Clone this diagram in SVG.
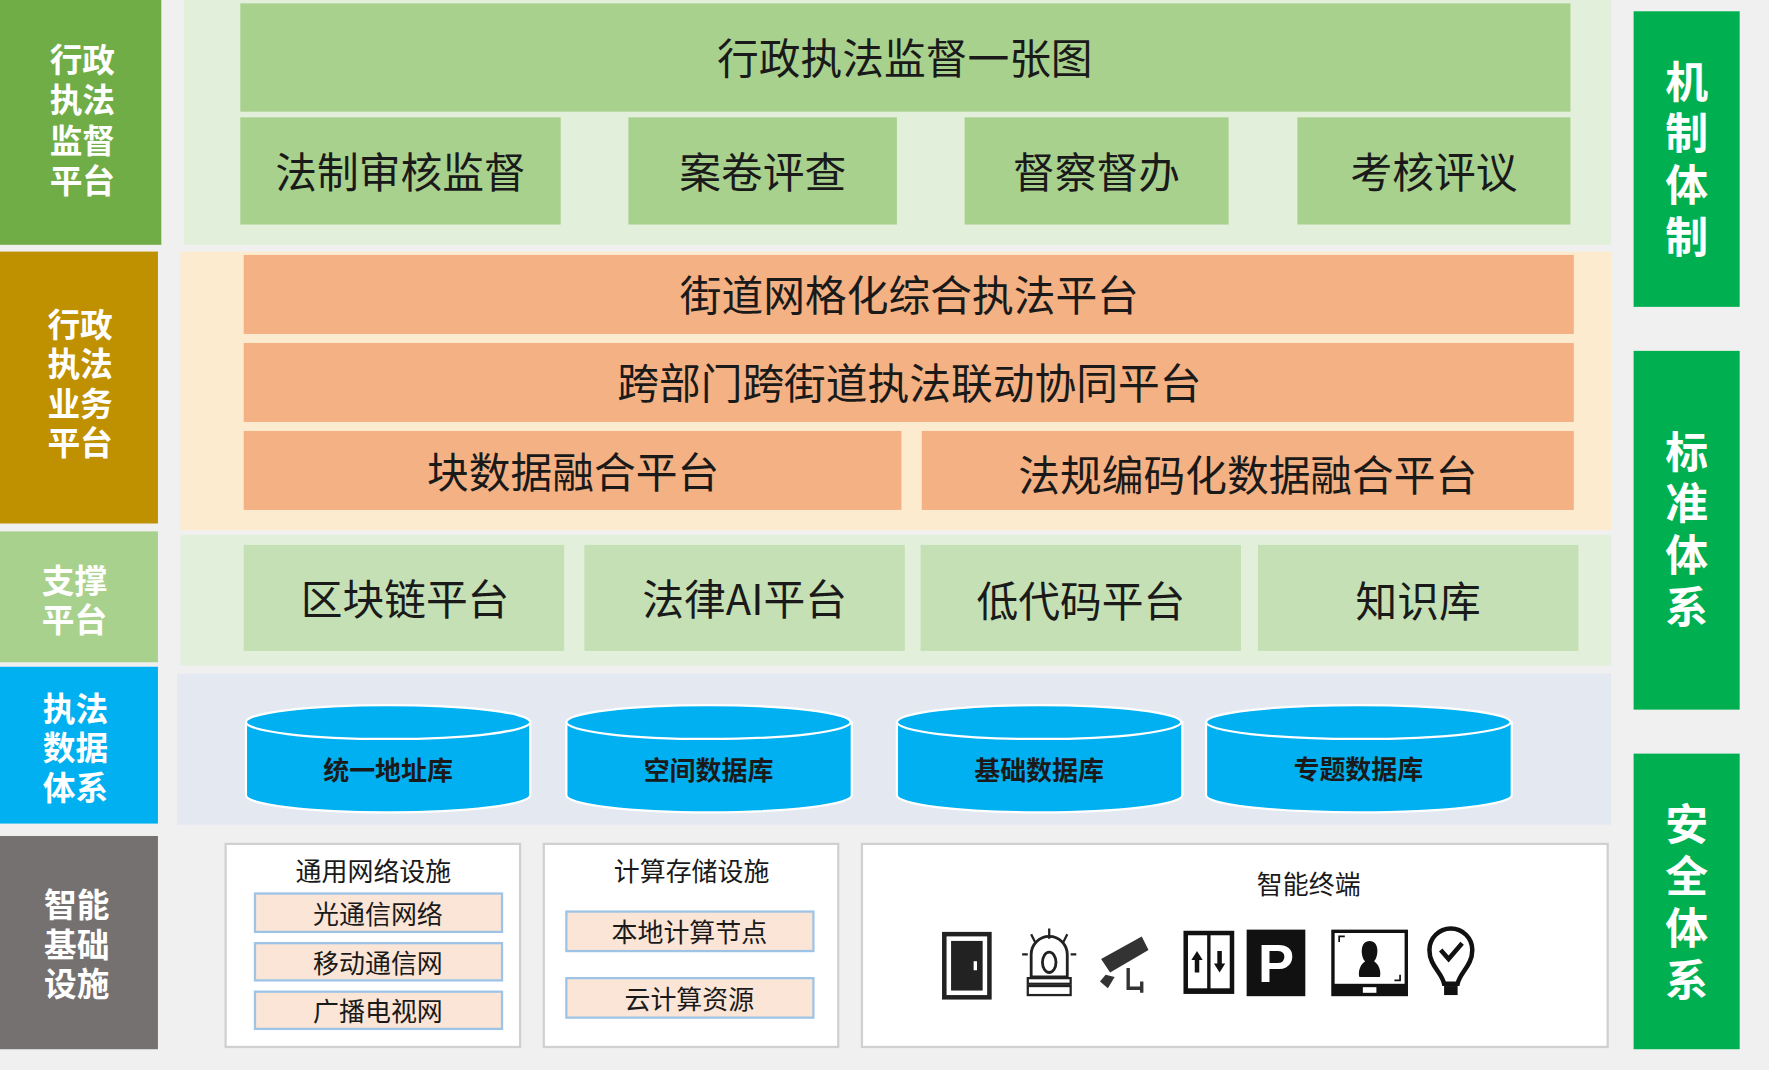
<svg xmlns="http://www.w3.org/2000/svg" width="1769" height="1070" viewBox="0 0 1769 1070">
<style>
text{font-family:"Noto Sans CJK SC","Noto Sans",sans-serif;text-anchor:middle;dominant-baseline:central}
.lt{fill:#fff;font-weight:bold;font-size:29px;writing-mode:vertical-rl;letter-spacing:6px;dominant-baseline:auto}
.rt{fill:#fff;font-weight:bold;font-size:38px;writing-mode:vertical-rl;letter-spacing:8px;dominant-baseline:auto}
.bt{fill:#1a1a1a;font-size:37px}
.db{fill:#1a1a1a;font-size:23px;font-weight:bold}
.sm{fill:#1a1a1a;font-size:23px}
.sub{fill:#fbe5d6;stroke:#9dc3e6;stroke-width:2}
.wb{fill:#fff;stroke:#d0d0d0;stroke-width:2}
.cyl{fill:#00b0f0;stroke:#fff;stroke-width:2}
</style>
<rect width="1769" height="1070" fill="#f0f0f0"/>
<g transform="scale(1.12819)">
<g id="left">
<rect x="0" y="0" width="143" height="217" fill="#70ad47"/>
<text class="lt" x="58.5" y="110" style="letter-spacing:7px">行执监平</text><text class="lt" x="87.5" y="110" style="letter-spacing:7px">政法督台</text>
<rect x="0" y="223" width="140" height="241" fill="#bf9000"/>
<text class="lt" x="56.5" y="343">行执业平</text><text class="lt" x="85.5" y="343">政法务台</text>
<rect x="0" y="471" width="140" height="116" fill="#a9d18e"/>
<text class="lt" x="51.5" y="535">支平</text><text class="lt" x="80.5" y="535">撑台</text>
<rect x="0" y="591" width="140" height="139" fill="#00b0f0"/>
<text class="lt" x="52.5" y="666">执数体</text><text class="lt" x="81.5" y="666">法据系</text>
<rect x="0" y="741" width="140" height="189" fill="#767171"/>
<text class="lt" x="53.5" y="840">智基设</text><text class="lt" x="82.5" y="840">能础施</text>
</g>
<g id="right">
<rect x="1448" y="10" width="94" height="262" fill="#00b050"/>
<text class="rt" x="1495" y="145">机制体制</text>
<rect x="1448" y="311" width="94" height="318" fill="#00b050"/>
<text class="rt" x="1495" y="473">标准体系</text>
<rect x="1448" y="668" width="94" height="262" fill="#00b050"/>
<text class="rt" x="1495" y="803">安全体系</text>
</g>
<g id="supervision">
<rect x="163" y="0" width="1265" height="217" fill="#e2efda"/>
<rect x="213" y="3" width="1179" height="96" fill="#a9d18e"/>
<text class="bt" x="802" y="50">行政执法监督一张图</text>
<rect x="213" y="104" width="284" height="95" fill="#a9d18e"/><text class="bt" x="355" y="151">法制审核监督</text>
<rect x="557" y="104" width="238" height="95" fill="#a9d18e"/><text class="bt" x="676" y="151">案卷评查</text>
<rect x="855" y="104" width="234" height="95" fill="#a9d18e"/><text class="bt" x="972" y="151">督察督办</text>
<rect x="1150" y="104" width="242" height="95" fill="#a9d18e"/><text class="bt" x="1271" y="151">考核评议</text>
</g>
<g id="business">
<rect x="160" y="223" width="1268" height="247" fill="#fcebcf"/>
<rect x="216" y="226" width="1179" height="70" fill="#f4b183"/><text class="bt" x="806" y="260">街道网格化综合执法平台</text>
<rect x="216" y="304" width="1179" height="70" fill="#f4b183"/><text class="bt" x="806" y="338">跨部门跨街道执法联动协同平台</text>
<rect x="216" y="382" width="583" height="70" fill="#f4b183"/><text class="bt" x="508" y="417">块数据融合平台</text>
<rect x="817" y="382" width="578" height="70" fill="#f4b183"/><text class="bt" x="1106" y="419">法规编码化数据融合平台</text>
</g>
<g id="support">
<rect x="160" y="474" width="1268" height="116" fill="#e2efda"/>
<rect x="216" y="483" width="284" height="94" fill="#c5e0b4"/><text class="bt" x="359" y="529">区块链平台</text>
<rect x="518" y="483" width="284" height="94" fill="#c5e0b4"/><text class="bt" x="660" y="529">法律AI平台</text>
<rect x="816" y="483" width="284" height="94" fill="#c5e0b4"/><text class="bt" x="958" y="531">低代码平台</text>
<rect x="1115" y="483" width="284" height="94" fill="#c5e0b4"/><text class="bt" x="1257" y="531">知识库</text>
</g>
<g id="data">
<rect x="157" y="597" width="1271" height="134" fill="#e3e8f1"/>
<path class="cyl" d="M218 640 V705 A126 15 0 0 0 470 705 V640 Z"/><ellipse class="cyl" cx="344" cy="640" rx="126" ry="15"/><text class="db" x="344" y="681">统一地址库</text>
<path class="cyl" d="M502 640 V705 A126 15 0 0 0 755 705 V640 Z"/><ellipse class="cyl" cx="628" cy="640" rx="126" ry="15"/><text class="db" x="628" y="681">空间数据库</text>
<path class="cyl" d="M795 640 V705 A126 15 0 0 0 1048 705 V640 Z"/><ellipse class="cyl" cx="921" cy="640" rx="126" ry="15"/><text class="db" x="921" y="681">基础数据库</text>
<path class="cyl" d="M1069 640 V705 A135 15 0 0 0 1340 705 V640 Z"/><ellipse class="cyl" cx="1204" cy="640" rx="135" ry="15"/><text class="db" x="1204" y="680">专题数据库</text>
</g>
<g id="infra">
<rect class="wb" x="200" y="748" width="261" height="180"/>
<text class="sm" x="331" y="771">通用网络设施</text>
<rect class="sub" x="226" y="792" width="219" height="34"/><text class="sm" x="335" y="809">光通信网络</text>
<rect class="sub" x="226" y="836" width="219" height="33"/><text class="sm" x="335" y="852">移动通信网</text>
<rect class="sub" x="226" y="879" width="219" height="33"/><text class="sm" x="335" y="895">广播电视网</text>
<rect class="wb" x="482" y="748" width="261" height="180"/>
<text class="sm" x="613" y="771">计算存储设施</text>
<rect class="sub" x="502" y="808" width="219" height="35"/><text class="sm" x="611" y="825">本地计算节点</text>
<rect class="sub" x="502" y="867" width="219" height="35"/><text class="sm" x="611" y="884">云计算资源</text>
<rect class="wb" x="764" y="748" width="661" height="180"/>
<text class="sm" x="1160" y="782">智能终端</text>
<g id="icons">
<rect x="837" y="828" width="40" height="56" fill="#fff" stroke="#222" stroke-width="4"/><rect x="843" y="834" width="28" height="44" fill="#222"/><rect x="863" y="852" width="3" height="8" fill="#fff"/>
<path d="M914 866 V846 A16 16 0 0 1 946 846 V866 Z" fill="#fff" stroke="#222" stroke-width="2.5"/><ellipse cx="930" cy="853" rx="6" ry="9" fill="none" stroke="#222" stroke-width="2.5"/>
<rect x="911" y="867" width="38" height="5" fill="#fff" stroke="#222" stroke-width="2"/><rect x="911" y="874" width="38" height="8" fill="#fff" stroke="#222" stroke-width="2"/>
<path d="M930 823 V832 M914 828 L918 836 M946 828 L942 836 M906 846 H911 M949 846 H954" stroke="#222" stroke-width="2"/>
<path d="M976 850 L1012 830 L1018 842 L984 862 Z" fill="#333"/><path d="M980 864 L975 870 L982 876 L988 866 Z" fill="#333"/><path d="M1000 858 V876 H1012 M1012 870 V880" stroke="#333" stroke-width="3" fill="none"/>
<rect x="1049" y="825" width="45" height="56" fill="#111"/><rect x="1053" y="829" width="17" height="47" fill="#fff"/><rect x="1073" y="829" width="17" height="47" fill="#fff"/>
<path d="M1061 843 L1056 851 H1059 V862 H1063 V851 H1066 Z M1081 862 L1076 854 H1079 V843 H1083 V854 H1086 Z" fill="#111"/>
<rect x="1105" y="824" width="52" height="59" fill="#111"/><text x="1131" y="854" fill="#fff" style="font-family:'Liberation Sans',sans-serif;font-weight:bold;font-size:48px">P</text>
<rect x="1180" y="824" width="68" height="59" fill="#111"/><rect x="1183" y="827" width="62" height="45" fill="#fff"/>
<path d="M1214 834 C1205 834 1206 848 1210 852 C1204 856 1204 864 1205 866 H1223 C1224 864 1224 856 1218 852 C1222 848 1223 834 1214 834 Z" fill="#111"/><rect x="1208" y="875" width="12" height="5" fill="#fff"/>
<path d="M1187 835 V830 H1192 M1241 864 V869 H1236" stroke="#111" stroke-width="1.5" fill="none"/>
<path d="M1286 823 A19 19 0 0 1 1305 842 C1305 856 1294 862 1292 872 H1280 C1278 862 1267 856 1267 842 A19 19 0 0 1 1286 823 Z" fill="#fff" stroke="#111" stroke-width="4"/>
<path d="M1277 842 L1284 850 L1296 836" stroke="#111" stroke-width="4" fill="none"/><rect x="1280" y="874" width="12" height="8" fill="#111"/>
</g>
</g>
</g>
</svg>
